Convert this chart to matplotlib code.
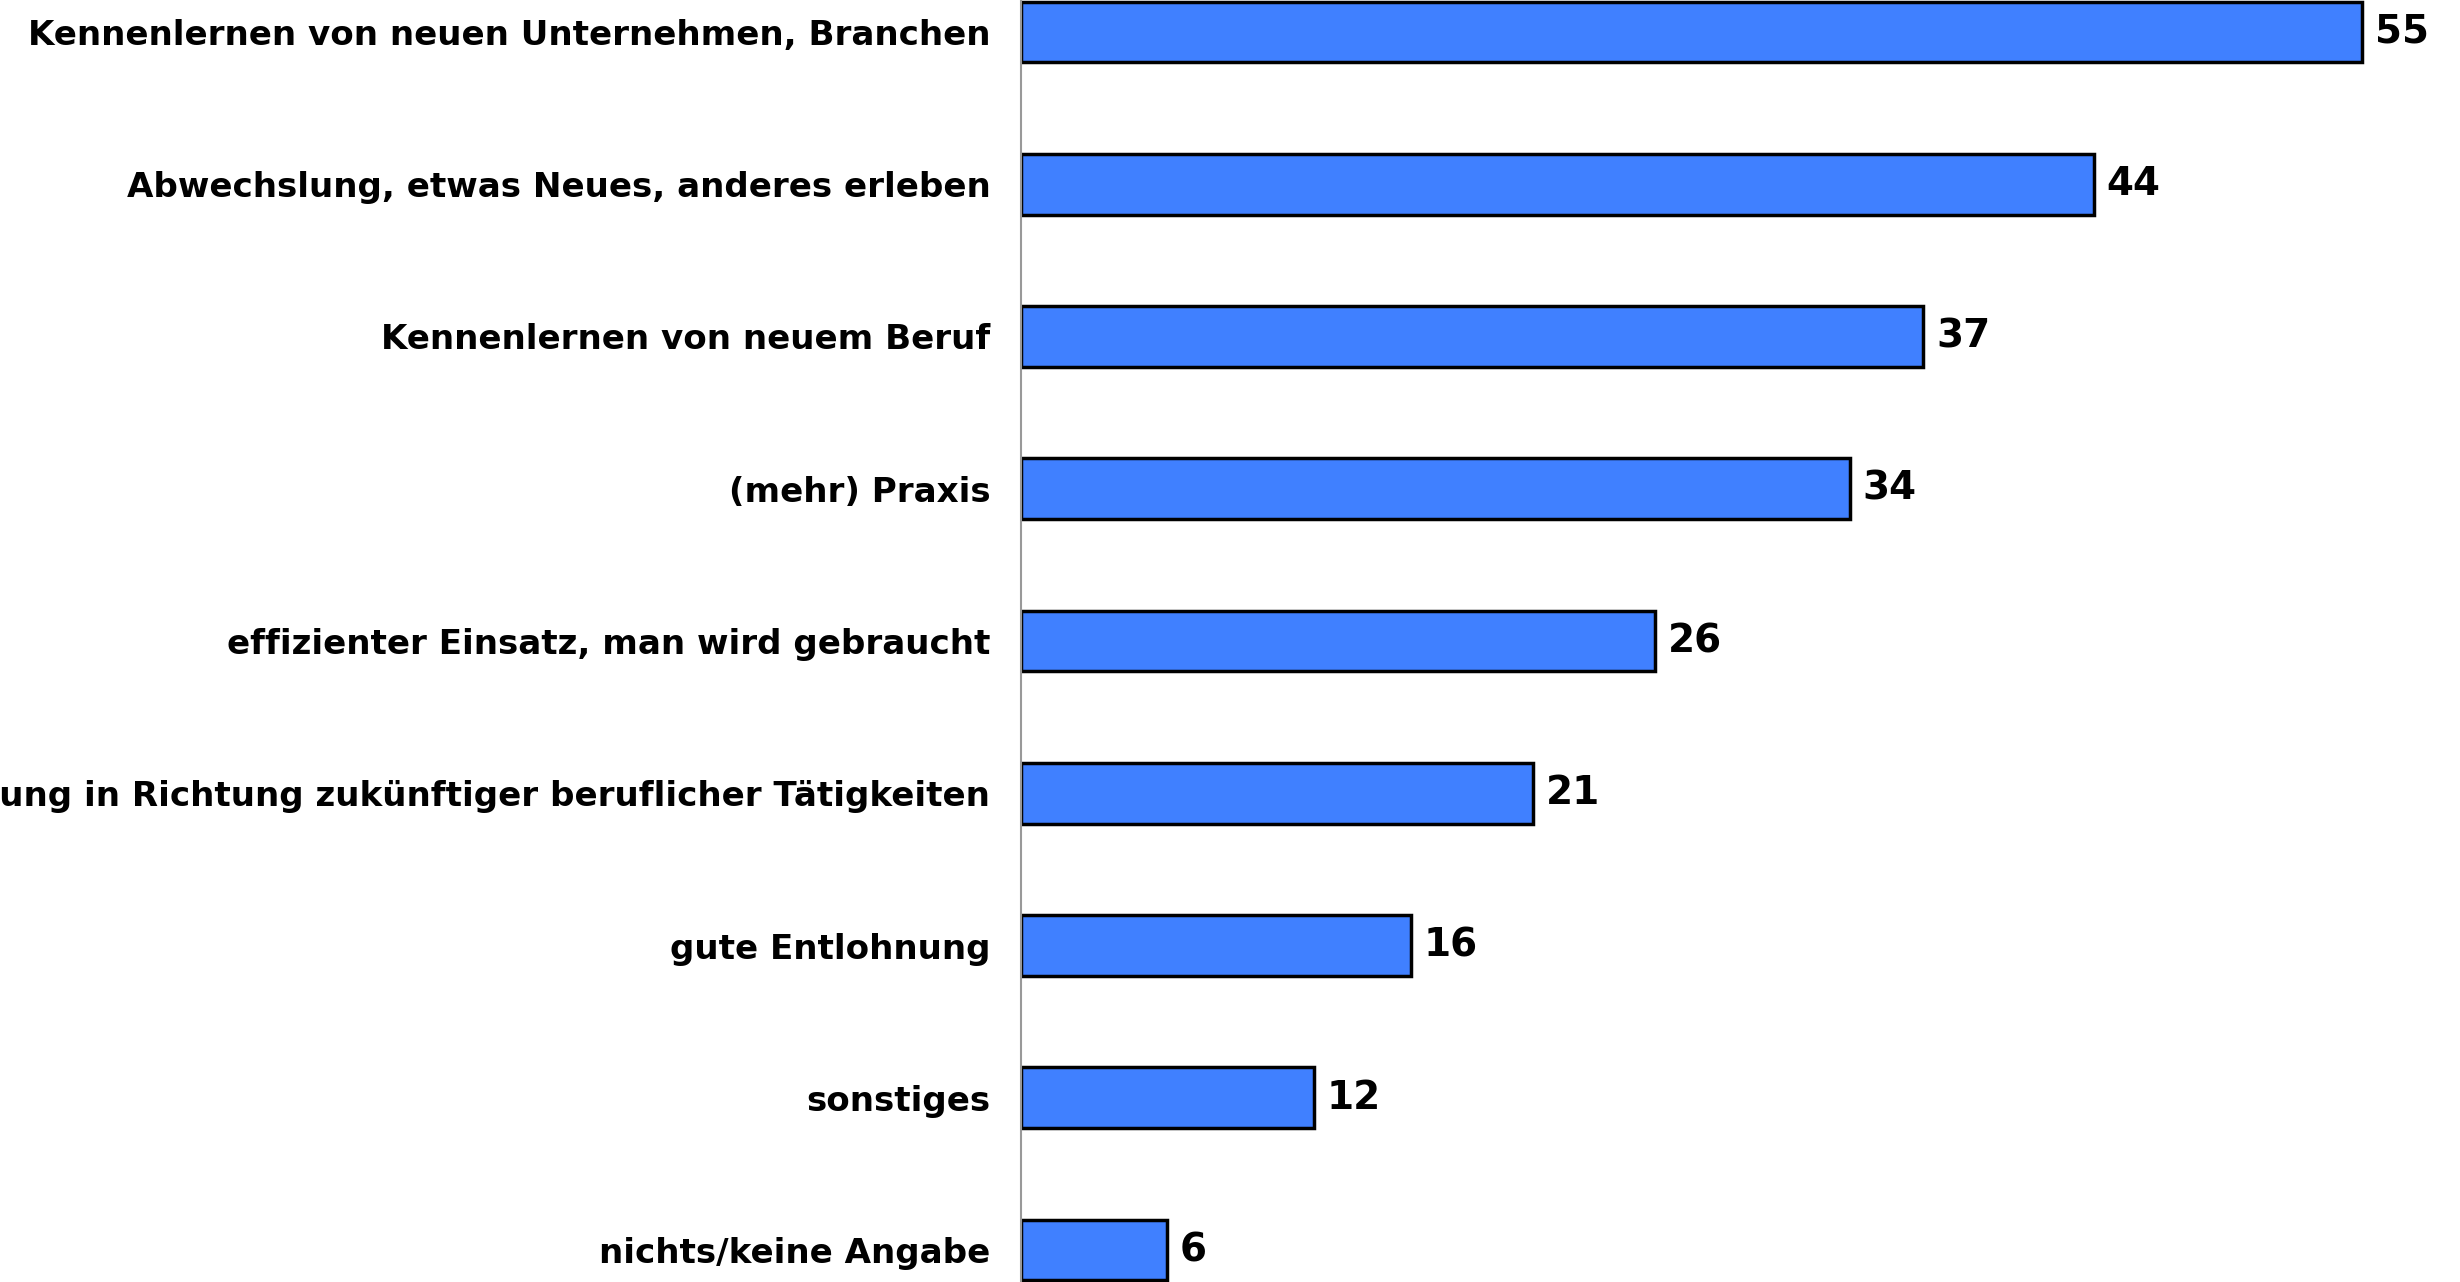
import matplotlib.pyplot as plt
import numpy as np

# data (percent)
categories = ["Kennenlernen von neuen Unternehmen, Branchen",
              "Abwechslung, etwas Neues, anderes erleben",
              "Kennenlernen von neuem Beruf",
              "(mehr) Praxis",
              "effizienter Einsatz, man wird gebraucht",
              "Orientierung in Richtung zukünftiger beruflicher Tätigkeiten",
              "gute Entlohnung",
              "sonstiges",
              "nichts/keine Angabe"]
values = [55, 44, 37, 34, 26, 21, 16, 12, 6]

fig = plt.figure(figsize=(24.6, 12.82), dpi=100)
ax = fig.add_axes([0.415, 0.0, 0.585, 1.0])

pos = np.arange(len(categories))
bars = ax.barh(pos, values, height=0.4, color="#4080ff",
               edgecolor="black", linewidth=2.5)

# value labels next to bars
ax.bar_label(bars, labels=[str(v) for v in values], padding=9,
             fontsize=28, fontweight="bold")

ax.set_yticks(pos)
ax.set_yticklabels(categories, fontsize=24.6, fontweight="bold")
ax.tick_params(axis="y", length=0, pad=22)
ax.set_xticks([])
ax.set_xlim(0, 59)
ax.set_ylim(8.21, -0.21)

for s in ["top", "right", "bottom"]:
    ax.spines[s].set_visible(False)
ax.spines["left"].set_color("#999999")
ax.spines["left"].set_linewidth(1.5)

plt.savefig("out.png", dpi=100)
